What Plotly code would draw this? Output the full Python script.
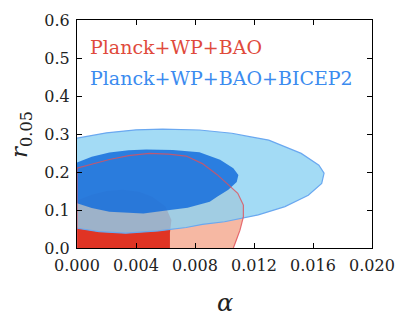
import plotly.graph_objects as go

# contour outlines (alpha, r_0.05)
red95_x = [0, 0, 0.0022, 0.0035, 0.0049, 0.0062, 0.0074, 0.0085, 0.0095, 0.0103, 0.0109, 0.01128, 0.01128, 0.01105, 0.01083, 0.0106]
red95_y = [0, 0.21, 0.233, 0.243, 0.249, 0.247, 0.242, 0.222, 0.193, 0.165, 0.144, 0.113, 0.082, 0.047, 0.021, 0]

red68_x = [0, 0, 0.001, 0.002, 0.0031, 0.0042, 0.0051, 0.006, 0.0064, 0.0063, 0.0063]
red68_y = [0, 0.125, 0.14, 0.15, 0.153, 0.148, 0.135, 0.109, 0.074, 0.04, 0]

blue95_x = [0, 0.002, 0.004, 0.0058, 0.0083, 0.0105, 0.0117, 0.013, 0.0152, 0.0164, 0.01675, 0.01659, 0.01568,
            0.0141, 0.01229, 0.0107, 0.01, 0.0085, 0.0074, 0.0055, 0.0033, 0.0015, 0]
blue95_y = [0.289, 0.303, 0.311, 0.313, 0.3105, 0.302, 0.293, 0.284, 0.249, 0.218, 0.197, 0.17, 0.139,
            0.109, 0.087, 0.074, 0.069, 0.062, 0.054, 0.045, 0.039, 0.043, 0.052]

blue68_x = [0, 0.001, 0.0022, 0.0035, 0.0047, 0.0065, 0.0083, 0.0097, 0.0106, 0.01094, 0.01083, 0.01026, 0.0095,
            0.009, 0.0075, 0.0063, 0.0045, 0.0022, 0.001, 0]
blue68_y = [0.225, 0.24, 0.251, 0.257, 0.259, 0.258, 0.252, 0.232, 0.21, 0.192, 0.174, 0.153, 0.135,
            0.122, 0.106, 0.1, 0.091, 0.0956, 0.105, 0.118]

xticks = [0, 0.004, 0.008, 0.012, 0.016, 0.020]
xticklabels = ["0.000", "0.004", "0.008", "0.012", "0.016", "0.020"]
yticks = [0, 0.1, 0.2, 0.3, 0.4, 0.5, 0.6]
yticklabels = ["0.0", "0.1", "0.2", "0.3", "0.4", "0.5", "0.6"]

FONT = "DejaVu Serif"

fig = go.Figure()
fig.add_trace(go.Scatter(x=red95_x, y=red95_y, fill="toself", mode="none",
                         fillcolor="#f6b8a3", hoverinfo="skip"))
fig.add_trace(go.Scatter(x=red68_x, y=red68_y, fill="toself", mode="none",
                         fillcolor="#e03424", hoverinfo="skip"))
fig.add_trace(go.Scatter(x=blue95_x, y=blue95_y, fill="toself", mode="lines",
                         line=dict(color="#6aa8f0", width=1.2),
                         fillcolor="rgba(140,210,243,0.8)", hoverinfo="skip"))
fig.add_trace(go.Scatter(x=blue68_x, y=blue68_y, fill="toself", mode="none",
                         fillcolor="rgba(21,109,220,0.85)", hoverinfo="skip"))
fig.add_trace(go.Scatter(x=red95_x, y=red95_y, mode="lines",
                         line=dict(color="rgba(224,80,90,0.8)", width=1.2), hoverinfo="skip"))

fig.add_annotation(x=0.037, y=0.88, xref="paper", yref="paper", xanchor="left", yanchor="middle",
                   text="Planck+WP+BAO", showarrow=False,
                   font=dict(family=FONT, size=19, color="#e04a3c"))
fig.add_annotation(x=0.037, y=0.745, xref="paper", yref="paper", xanchor="left", yanchor="middle",
                   text="Planck+WP+BAO+BICEP2", showarrow=False,
                   font=dict(family=FONT, size=19, color="#3b8bef"))

# axis titles placed by hand
fig.add_annotation(x=0.5, y=-0.24, xref="paper", yref="paper", xanchor="center", yanchor="middle",
                   text="<i>α</i>", showarrow=False,
                   font=dict(family=FONT, size=24, color="#222"))
fig.add_annotation(x=-0.19, y=0.5, xref="paper", yref="paper", xanchor="center", yanchor="middle",
                   text="<i>r</i><sub>0.05</sub>", showarrow=False, textangle=-90,
                   font=dict(family=FONT, size=23, color="#222"))

axis_common = dict(showline=True, linecolor="black", linewidth=1.2, mirror="ticks",
                   ticks="inside", ticklen=5, tickwidth=1, tickcolor="black",
                   showgrid=False, zeroline=False, automargin=False, ticklabelstandoff=3,
                   tickfont=dict(family=FONT, size=16, color="#222"))

fig.update_xaxes(range=[0, 0.02], tickvals=xticks, ticktext=xticklabels, **axis_common)
fig.update_yaxes(range=[0, 0.6], tickvals=yticks, ticktext=yticklabels, **axis_common)

fig.update_layout(width=407, height=325, margin=dict(l=77, r=35, t=20, b=77),
                  plot_bgcolor="white", paper_bgcolor="white", showlegend=False)

# page body has a default 8px margin; drop it so the figure sits at the window's corner
fig.write_html("out.html", config={"displayModeBar": False},
               post_script="document.body.style.margin='0';")
